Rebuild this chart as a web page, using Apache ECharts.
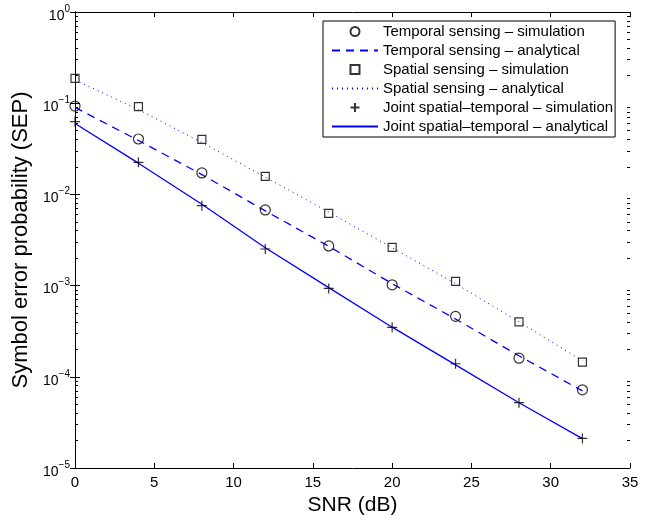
<!DOCTYPE html>
<html>
<head>
<meta charset="utf-8">
<script src="https://cdn.jsdelivr.net/npm/echarts@6/dist/echarts.min.js"></script>
<style>html,body{margin:0;padding:0;background:#fff}#c{width:663px;height:516px}</style>
</head>
<body>
<div id="c"></div>
<script>
const snr = [0, 4, 8, 12, 16, 20, 24, 28, 32];
const temporalSim = [0.093, 0.0405, 0.0172, 0.00675, 0.00272, 0.00102, 4.6e-4, 1.6e-4, 7.2e-5];
const temporalAna = [0.09, 0.039, 0.0165, 0.0066, 0.0027, 0.00105, 4.3e-4, 1.7e-4, 7.0e-5];
const spatialSim = [0.1875, 0.0916, 0.0402, 0.0158, 0.0062, 0.00263, 0.00111, 4.0e-4, 1.45e-4];
const spatialAna = [0.18, 0.085, 0.037, 0.0155, 0.0064, 0.0026, 0.00105, 4.0e-4, 1.5e-4];
const jointSim = [0.0627, 0.0225, 0.00752, 0.00252, 9.3e-4, 3.49e-4, 1.39e-4, 5.2e-5, 2.11e-5];
const jointAna = [0.06, 0.022, 0.0078, 0.0026, 9.5e-4, 3.5e-4, 1.35e-4, 5.2e-5, 2.1e-5];
const xTicks = [0, 5, 10, 15, 20, 25, 30, 35];
const yDecades = [1e-5, 1e-4, 1e-3, 1e-2, 1e-1, 1];
const names = [
  'Temporal sensing – simulation',
  'Temporal sensing – analytical',
  'Spatial sensing – simulation',
  'Spatial sensing – analytical',
  'Joint spatial–temporal – simulation',
  'Joint spatial–temporal – analytical'
];

const minorTicks = [];
for (let i = 0; i < yDecades.length - 1; i++) {
  for (let m = 2; m <= 9; m++) minorTicks.push(yDecades[i] * m);
}
const pair = (ys) => snr.map((x, i) => [x, ys[i]]);
const FONT = '"Liberation Sans", Arial, sans-serif';
const BLUE = '#0000ff';
const PLUS = 'path://M5,0L5,10M0,5L10,5';
const SQUARE = 'path://M0,0L10,0L10,10L0,10Z';
const CLEAR = 'rgba(0,0,0,0)';

const yLabel = (v) => {
  const e = Math.round(Math.log10(v));
  return '{b|10}{s|' + (e < 0 ? '−' + (-e) : e) + '}';
};
const yRich = {
  b: { fontSize: 14, fontFamily: FONT, color: '#000', padding: [8, 0, 0, 0] },
  s: { fontSize: 10, fontFamily: FONT, color: '#000', padding: [0, 0, 6, 0] }
};

const baseY = {
  type: 'log', logBase: 10, min: 1e-5, max: 1, splitNumber: 5,
  splitLine: { show: false }
};
const baseX = { type: 'value', min: 0, max: 35, interval: 5, splitLine: { show: false } };
const simStyle = { color: CLEAR, borderColor: '#000', borderWidth: 1.2 };

const option = {
  animation: false,
  backgroundColor: '#fff',
  grid: { left: 75, top: 12, right: 33, bottom: 48, containLabel: false, outerBoundsMode: 'none' },
  legend: {
    orient: 'vertical', left: 323, top: 21,
    padding: [3, 2, 3, 8],
    itemWidth: 46, itemHeight: 9, itemGap: 4,
    symbolKeepAspect: true,
    backgroundColor: '#fff', borderColor: '#000', borderWidth: 1,
    textStyle: { fontSize: 15, lineHeight: 15, fontFamily: FONT, color: '#000' },
    data: [
      { name: names[0], icon: 'circle' },
      { name: names[1] },
      { name: names[2], icon: SQUARE },
      { name: names[3] },
      { name: names[4], icon: PLUS },
      { name: names[5] }
    ]
  },
  xAxis: [
    Object.assign({}, baseX, {
      position: 'bottom',
      axisLine: { lineStyle: { color: '#000', width: 1 } },
      axisTick: { inside: true, length: 5, lineStyle: { color: '#000' } },
      axisLabel: { fontSize: 15, fontFamily: FONT, color: '#000', margin: 7 },
      name: 'SNR (dB)', nameLocation: 'middle', nameGap: 19,
      nameTextStyle: { fontSize: 21, fontFamily: FONT, color: '#000' }
    }),
    Object.assign({}, baseX, {
      position: 'top',
      axisLine: { lineStyle: { color: '#000', width: 1 } },
      axisTick: { inside: true, length: 5, lineStyle: { color: '#000' } },
      axisLabel: { show: false }
    })
  ],
  yAxis: [
    Object.assign({}, baseY, {
      position: 'left',
      axisLine: { lineStyle: { color: '#000', width: 1 } },
      axisTick: { inside: true, length: 5, lineStyle: { color: '#000' } },
      axisLabel: { formatter: yLabel, rich: yRich, margin: 5 },
      name: 'Symbol error probability (SEP)', nameLocation: 'middle', nameGap: 42,
      nameTextStyle: { fontSize: 22, fontFamily: FONT, color: '#000' }
    }),
    Object.assign({}, baseY, {
      position: 'right',
      axisLine: { lineStyle: { color: '#000', width: 1 } },
      axisTick: { inside: true, length: 5, lineStyle: { color: '#000' } },
      axisLabel: { show: false }
    }),
    Object.assign({}, baseY, {
      position: 'left', offset: 0,
      axisLine: { show: false },
      axisTick: { inside: true, length: 3, customValues: minorTicks, lineStyle: { color: '#000' } },
      axisLabel: { show: false }
    }),
    Object.assign({}, baseY, {
      position: 'right', offset: 0,
      axisLine: { show: false },
      axisTick: { inside: true, length: 3, customValues: minorTicks, lineStyle: { color: '#000' } },
      axisLabel: { show: false }
    })
  ],
  series: [
    {
      name: names[0], type: 'scatter', data: pair(temporalSim), symbol: 'circle', symbolSize: 10,
      itemStyle: simStyle, z: 5
    },
    {
      name: names[1], type: 'line', data: pair(temporalAna), showSymbol: false, symbol: 'none',
      lineStyle: { color: BLUE, width: 1.3, type: [8, 6] },
      itemStyle: { color: CLEAR, borderColor: CLEAR, borderWidth: 0 }
    },
    {
      name: names[2], type: 'scatter', data: pair(spatialSim), symbol: SQUARE, symbolSize: 8,
      symbolKeepAspect: true, itemStyle: simStyle, z: 5
    },
    {
      name: names[3], type: 'line', data: pair(spatialAna), showSymbol: false, symbol: 'none',
      lineStyle: { color: BLUE, width: 1, type: [1, 4] },
      itemStyle: { color: CLEAR, borderColor: CLEAR, borderWidth: 0 }
    },
    {
      name: names[4], type: 'scatter', data: pair(jointSim), symbol: PLUS, symbolSize: 10,
      symbolKeepAspect: true, itemStyle: simStyle, z: 5
    },
    {
      name: names[5], type: 'line', data: pair(jointAna), showSymbol: false, symbol: 'none',
      lineStyle: { color: BLUE, width: 1.3, type: 'solid' },
      itemStyle: { color: CLEAR, borderColor: CLEAR, borderWidth: 0 }
    }
  ]
};
const chart = echarts.init(document.getElementById('c'), null, { renderer: 'canvas' });
chart.setOption(option);
</script>
</body>
</html>
